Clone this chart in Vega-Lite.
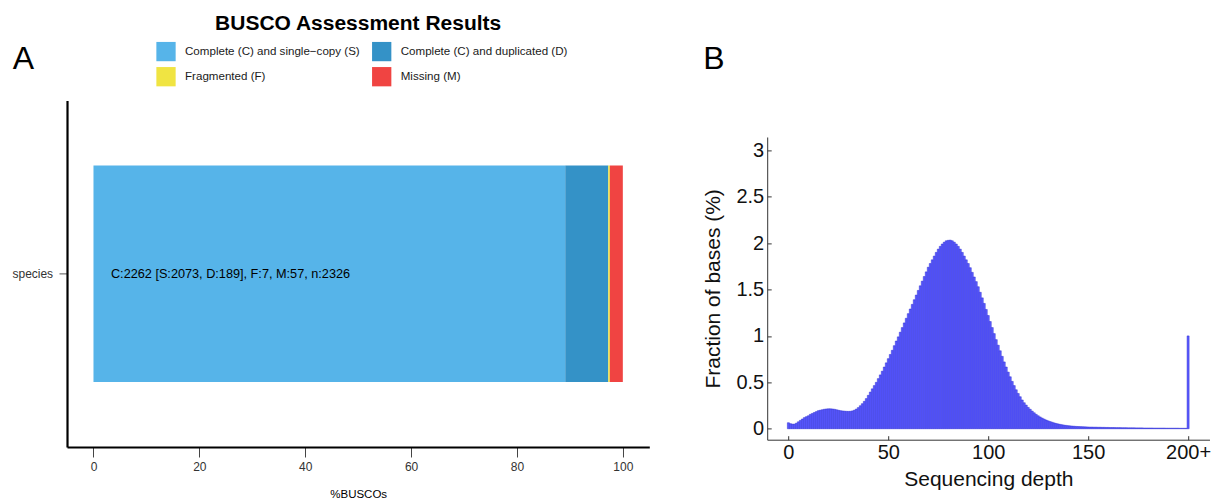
{
  "$schema": "https://vega.github.io/schema/vega-lite/v6.json",
  "padding": {"left": 11, "top": 12.4, "right": 3, "bottom": 0},
  "bounds": "flush",
  "spacing": 117.2,
  "config": {"font": "Liberation Sans", "view": {"stroke": null}},
  "hconcat": [
    {
      "width": 582.3,
      "height": 346.6,
      "title": {"text": "BUSCO Assessment Results", "fontSize": 21, "fontWeight": "bold", "anchor": "middle", "frame": "group", "offset": 9, "color": "#000000"},
      "data": {"values": [
        {"species": "species", "category": "Complete (C) and single−copy (S)", "pct": 89.12, "idx": 1},
        {"species": "species", "category": "Complete (C) and duplicated (D)", "pct": 8.13, "idx": 2},
        {"species": "species", "category": "Fragmented (F)", "pct": 0.3, "idx": 3},
        {"species": "species", "category": "Missing (M)", "pct": 2.45, "idx": 4}
      ]},
      "layer": [
        {
          "mark": {"type": "bar"},
          "encoding": {
            "y": {"field": "species", "type": "nominal", "scale": {"paddingInner": 0, "paddingOuter": 0.3},
              "axis": {"title": "A", "titleAngle": 0, "titleAlign": "left", "titleBaseline": "alphabetic", "titleX": -54.7, "titleY": -31.7, "titleFontSize": 32, "titleFontWeight": "normal", "titleColor": "#000000",
                "labelFontSize": 12, "labelColor": "#333333", "tickSize": 8, "tickColor": "#555555", "labelPadding": 6.4, "domainColor": "#000000", "domainWidth": 2.2, "grid": false}},
            "x": {"field": "pct", "type": "quantitative", "stack": "zero", "scale": {"domain": [-5, 105], "nice": false, "zero": false},
              "axis": {"title": "%BUSCOs", "values": [0, 20, 40, 60, 80, 100], "labelFontSize": 12, "labelColor": "#333333", "tickSize": 10, "tickColor": "#444444", "labelPadding": 5, "domainColor": "#000000", "domainWidth": 2.2, "titleFontSize": 11.5, "titleFontWeight": "normal", "titleColor": "#000000", "titlePadding": 16, "grid": false, "labelFlush": false}},
            "color": {"field": "category", "type": "nominal",
              "scale": {"domain": ["Complete (C) and single−copy (S)", "Complete (C) and duplicated (D)", "Fragmented (F)", "Missing (M)"], "range": ["#56B4E9", "#3492C7", "#F0E442", "#F04442"]},
              "legend": {"orient": "none", "direction": "horizontal", "legendX": 89, "legendY": -59, "title": null, "columns": 2, "symbolType": "square", "symbolSize": 372, "symbolStrokeWidth": 0, "labelFontSize": 11.6, "labelColor": "#1a1a1a", "labelOffset": 9, "labelLimit": 400, "rowPadding": 5.3, "columnPadding": 11.7, "padding": 0, "symbolOpacity": 1}},
            "order": {"field": "idx", "type": "quantitative"}
          }
        },
        {
          "data": {"values": [{"species": "species", "label": "C:2262 [S:2073, D:189], F:7, M:57, n:2326"}]},
          "mark": {"type": "text", "align": "left", "baseline": "middle", "fontSize": 12.7, "color": "#000000"},
          "encoding": {
            "y": {"field": "species", "type": "nominal"},
            "x": {"datum": 3.3, "type": "quantitative"},
            "text": {"field": "label"}
          }
        }
      ]
    },
    {
      "width": 442.3,
      "height": 339.3,
      "title": {"text": "B", "fontSize": 32, "fontWeight": "normal", "anchor": "start", "frame": "group", "dx": -64, "offset": 24, "color": "#000000"},
      "data": {"values": [
        {"depth":0,"fraction":0.065},{"depth":1,"fraction":0.055},{"depth":2,"fraction":0.05},{"depth":3,"fraction":0.05},{"depth":4,"fraction":0.06},
        {"depth":5,"fraction":0.075},{"depth":6,"fraction":0.09},{"depth":7,"fraction":0.105},{"depth":8,"fraction":0.12},{"depth":9,"fraction":0.13},
        {"depth":10,"fraction":0.14},{"depth":11,"fraction":0.155},{"depth":12,"fraction":0.165},{"depth":13,"fraction":0.175},{"depth":14,"fraction":0.185},
        {"depth":15,"fraction":0.195},{"depth":16,"fraction":0.2},{"depth":17,"fraction":0.205},{"depth":18,"fraction":0.21},{"depth":19,"fraction":0.213},
        {"depth":20,"fraction":0.215},{"depth":21,"fraction":0.215},{"depth":22,"fraction":0.213},{"depth":23,"fraction":0.21},{"depth":24,"fraction":0.205},
        {"depth":25,"fraction":0.2},{"depth":26,"fraction":0.195},{"depth":27,"fraction":0.192},{"depth":28,"fraction":0.19},{"depth":29,"fraction":0.188},
        {"depth":30,"fraction":0.187},{"depth":31,"fraction":0.188},{"depth":32,"fraction":0.192},{"depth":33,"fraction":0.2},{"depth":34,"fraction":0.212},
        {"depth":35,"fraction":0.228},{"depth":36,"fraction":0.248},{"depth":37,"fraction":0.27},{"depth":38,"fraction":0.295},{"depth":39,"fraction":0.325},
        {"depth":40,"fraction":0.36},{"depth":41,"fraction":0.395},{"depth":42,"fraction":0.43},{"depth":43,"fraction":0.465},{"depth":44,"fraction":0.5},
        {"depth":45,"fraction":0.54},{"depth":46,"fraction":0.58},{"depth":47,"fraction":0.62},{"depth":48,"fraction":0.665},{"depth":49,"fraction":0.71},
        {"depth":50,"fraction":0.755},{"depth":51,"fraction":0.8},{"depth":52,"fraction":0.845},{"depth":53,"fraction":0.895},{"depth":54,"fraction":0.945},
        {"depth":55,"fraction":0.99},{"depth":56,"fraction":1.04},{"depth":57,"fraction":1.09},{"depth":58,"fraction":1.14},{"depth":59,"fraction":1.19},
        {"depth":60,"fraction":1.24},{"depth":61,"fraction":1.29},{"depth":62,"fraction":1.34},{"depth":63,"fraction":1.39},{"depth":64,"fraction":1.44},
        {"depth":65,"fraction":1.49},{"depth":66,"fraction":1.54},{"depth":67,"fraction":1.59},{"depth":68,"fraction":1.64},{"depth":69,"fraction":1.69},
        {"depth":70,"fraction":1.74},{"depth":71,"fraction":1.78},{"depth":72,"fraction":1.82},{"depth":73,"fraction":1.86},{"depth":74,"fraction":1.9},
        {"depth":75,"fraction":1.935},{"depth":76,"fraction":1.965},{"depth":77,"fraction":1.99},{"depth":78,"fraction":2.01},{"depth":79,"fraction":2.025},
        {"depth":80,"fraction":2.03},{"depth":81,"fraction":2.032},{"depth":82,"fraction":2.025},{"depth":83,"fraction":2.01},{"depth":84,"fraction":1.99},
        {"depth":85,"fraction":1.965},{"depth":86,"fraction":1.935},{"depth":87,"fraction":1.9},{"depth":88,"fraction":1.86},{"depth":89,"fraction":1.82},
        {"depth":90,"fraction":1.78},{"depth":91,"fraction":1.735},{"depth":92,"fraction":1.685},{"depth":93,"fraction":1.635},{"depth":94,"fraction":1.585},
        {"depth":95,"fraction":1.53},{"depth":96,"fraction":1.47},{"depth":97,"fraction":1.41},{"depth":98,"fraction":1.35},{"depth":99,"fraction":1.285},
        {"depth":100,"fraction":1.22},{"depth":101,"fraction":1.155},{"depth":102,"fraction":1.09},{"depth":103,"fraction":1.025},{"depth":104,"fraction":0.96},
        {"depth":105,"fraction":0.9},{"depth":106,"fraction":0.84},{"depth":107,"fraction":0.78},{"depth":108,"fraction":0.72},{"depth":109,"fraction":0.665},
        {"depth":110,"fraction":0.61},{"depth":111,"fraction":0.56},{"depth":112,"fraction":0.51},{"depth":113,"fraction":0.465},{"depth":114,"fraction":0.42},
        {"depth":115,"fraction":0.38},{"depth":116,"fraction":0.345},{"depth":117,"fraction":0.31},{"depth":118,"fraction":0.28},{"depth":119,"fraction":0.255},
        {"depth":120,"fraction":0.23},{"depth":121,"fraction":0.21},{"depth":122,"fraction":0.19},{"depth":123,"fraction":0.172},{"depth":124,"fraction":0.155},
        {"depth":125,"fraction":0.14},{"depth":126,"fraction":0.127},{"depth":127,"fraction":0.115},{"depth":128,"fraction":0.104},{"depth":129,"fraction":0.094},
        {"depth":130,"fraction":0.085},{"depth":131,"fraction":0.077},{"depth":132,"fraction":0.07},{"depth":133,"fraction":0.063},{"depth":134,"fraction":0.057},
        {"depth":135,"fraction":0.052},{"depth":136,"fraction":0.047},{"depth":137,"fraction":0.043},{"depth":138,"fraction":0.039},{"depth":139,"fraction":0.036},
        {"depth":140,"fraction":0.033},{"depth":141,"fraction":0.031},{"depth":142,"fraction":0.029},{"depth":143,"fraction":0.027},{"depth":144,"fraction":0.025},
        {"depth":145,"fraction":0.024},{"depth":146,"fraction":0.023},{"depth":147,"fraction":0.022},{"depth":148,"fraction":0.021},{"depth":149,"fraction":0.02},
        {"depth":150,"fraction":0.019},{"depth":151,"fraction":0.018},{"depth":152,"fraction":0.018},{"depth":153,"fraction":0.017},{"depth":154,"fraction":0.017},
        {"depth":155,"fraction":0.016},{"depth":156,"fraction":0.016},{"depth":157,"fraction":0.015},{"depth":158,"fraction":0.015},{"depth":159,"fraction":0.014},
        {"depth":160,"fraction":0.014},{"depth":161,"fraction":0.013},{"depth":162,"fraction":0.013},{"depth":163,"fraction":0.013},{"depth":164,"fraction":0.012},
        {"depth":165,"fraction":0.012},{"depth":166,"fraction":0.012},{"depth":167,"fraction":0.011},{"depth":168,"fraction":0.011},{"depth":169,"fraction":0.011},
        {"depth":170,"fraction":0.01},{"depth":171,"fraction":0.01},{"depth":172,"fraction":0.01},{"depth":173,"fraction":0.01},{"depth":174,"fraction":0.009},
        {"depth":175,"fraction":0.009},{"depth":176,"fraction":0.009},{"depth":177,"fraction":0.009},{"depth":178,"fraction":0.008},{"depth":179,"fraction":0.008},
        {"depth":180,"fraction":0.008},{"depth":181,"fraction":0.008},{"depth":182,"fraction":0.008},{"depth":183,"fraction":0.007},{"depth":184,"fraction":0.007},
        {"depth":185,"fraction":0.007},{"depth":186,"fraction":0.007},{"depth":187,"fraction":0.007},{"depth":188,"fraction":0.007},{"depth":189,"fraction":0.006},
        {"depth":190,"fraction":0.006},{"depth":191,"fraction":0.006},{"depth":192,"fraction":0.006},{"depth":193,"fraction":0.006},{"depth":194,"fraction":0.006},
        {"depth":195,"fraction":0.006},{"depth":196,"fraction":0.005},{"depth":197,"fraction":0.005},{"depth":198,"fraction":0.005},{"depth":199,"fraction":0.005},
        {"depth":200,"fraction":1.0}
      ]},
      "mark": {"type": "bar", "width": 2.05, "fill": "#5c5cff", "stroke": "#2323d0", "strokeWidth": 0.45},
      "encoding": {
        "x": {"field": "depth", "type": "quantitative", "scale": {"domain": [-8.1, 208.2], "nice": false, "zero": false},
          "axis": {"title": "Sequencing depth", "values": [0, 50, 100, 150, 200], "labelExpr": "datum.value == 200 ? '200+' : datum.label", "labelFontSize": 20, "labelColor": "#111111", "tickSize": -4, "tickColor": "#333333", "labelPadding": 7.2, "domainColor": "#333333", "domainWidth": 1, "titleFontSize": 21, "titleFontWeight": "normal", "titleColor": "#111111", "titlePadding": 6, "grid": false, "labelFlush": false}},
        "y": {"field": "fraction", "type": "quantitative", "scale": {"domain": [-0.118, 3.143], "nice": false, "zero": false, "range": [339.3, 36.6]},
          "axis": {"title": "Fraction of bases (%)", "values": [0, 0.5, 1, 1.5, 2, 2.5, 3], "format": "~g", "labelFontSize": 20, "labelColor": "#111111", "tickSize": -4, "tickColor": "#333333", "labelPadding": 7.5, "domainColor": "#333333", "domainWidth": 1, "titleFontSize": 21, "titleFontWeight": "normal", "titleColor": "#111111", "titlePadding": 12.5, "grid": false}},
        "y2": {"datum": 0}
      }
    }
  ]
}
